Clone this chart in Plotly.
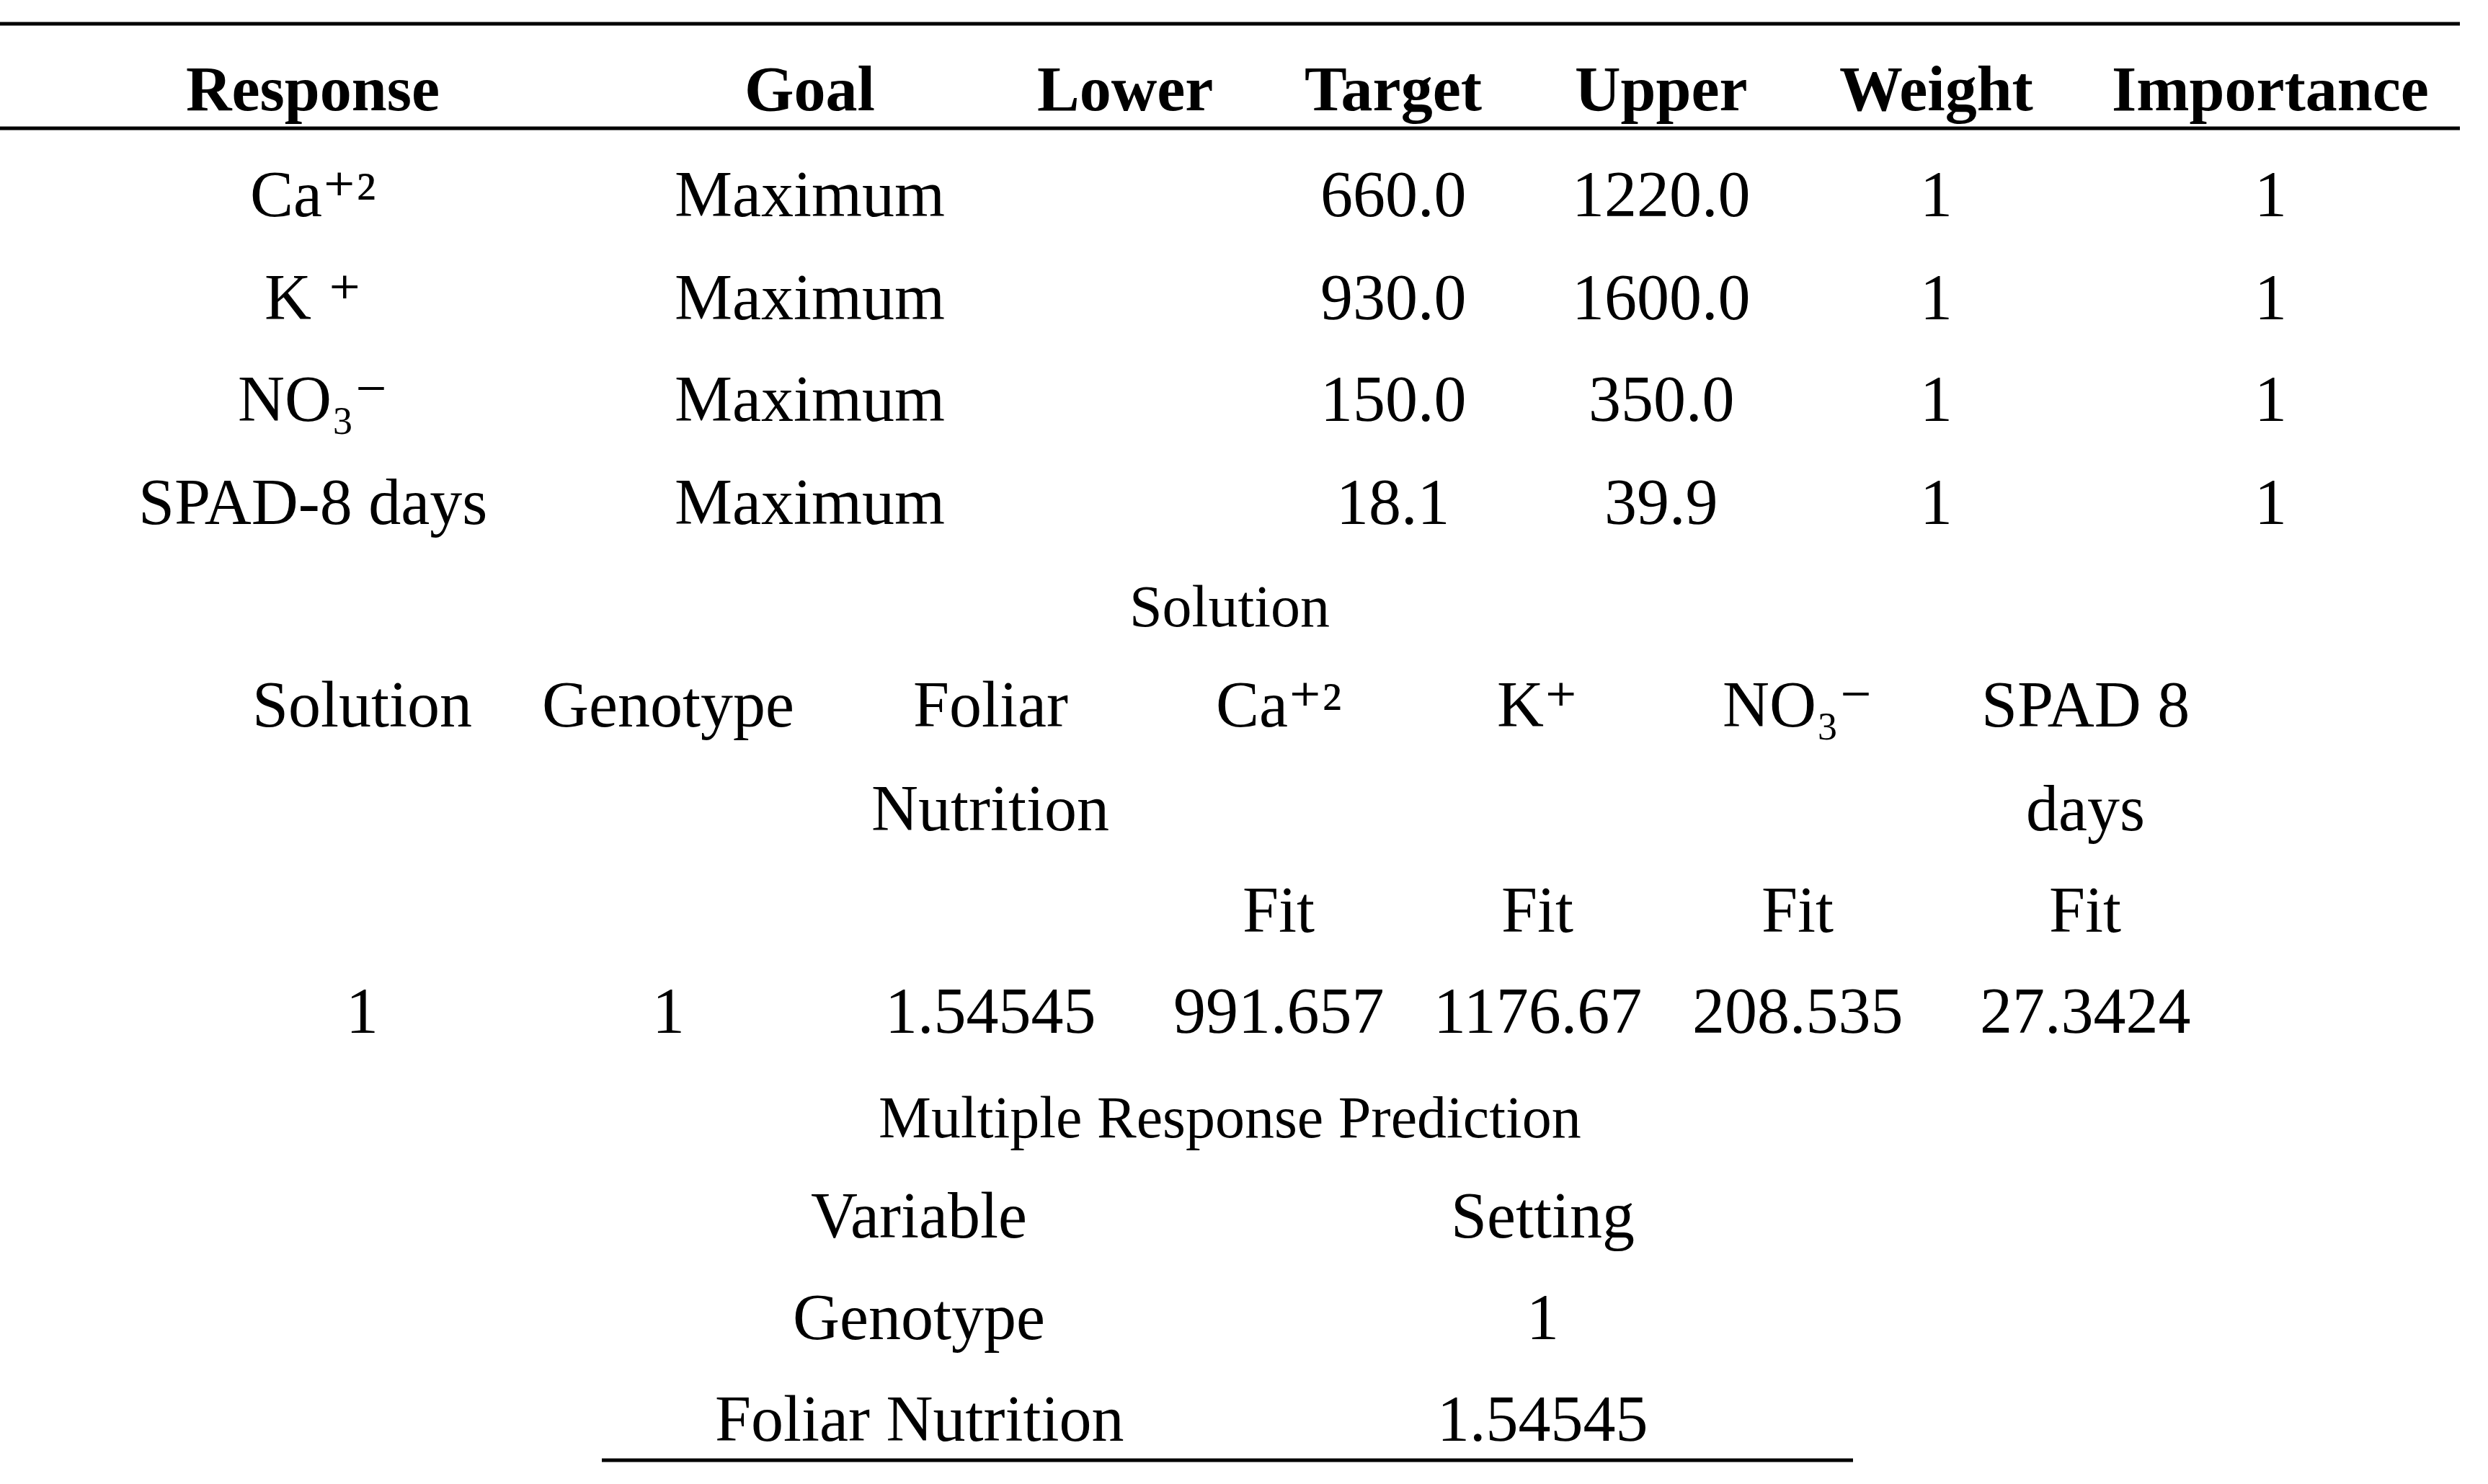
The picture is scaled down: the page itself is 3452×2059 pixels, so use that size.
import plotly.graph_objects as go

# ---------------- data ----------------
opt_headers = ["Response", "Goal", "Lower", "Target", "Upper", "Weight", "Importance"]
responses = ["Ca⁺²", "K ⁺", "NO₃⁻", "SPAD-8 days"]
goals = ["Maximum", "Maximum", "Maximum", "Maximum"]
lowers = ["", "", "", ""]
targets = ["660.0", "930.0", "150.0", "18.1"]
uppers = ["1220.0", "1600.0", "350.0", "39.9"]
weights = ["1", "1", "1", "1"]
importances = ["1", "1", "1", "1"]

solution_title = "Solution"
sol_header_rows = [
    ["Solution", "Genotype", "Foliar", "Ca⁺²", "K⁺", "NO₃⁻", "SPAD 8"],
    ["", "", "Nutrition", "", "", "", "days"],
    ["", "", "", "Fit", "Fit", "Fit", "Fit"],
]
sol_values = ["1", "1", "1.54545", "991.657", "1176.67", "208.535", "27.3424"]

pred_title = "Multiple Response Prediction"
pred_header = ["Variable", "Setting"]
pred_variables = ["Genotype", "Foliar Nutrition"]
pred_settings = ["1", "1.54545"]

# ---------------- layout (pixel positions) ----------------
W, H = 3452, 2059
FONT = "Liberation Serif, DejaVu Serif, serif"
BODY = 90
HEAD = 88
TITLE = 82

opt_x = [434, 1123, 1561, 1933, 2305, 2686, 3150]
opt_head_y = 123
opt_rows_y = [269, 412, 553, 696]

sol_title_y = 841
sol_x = [502, 927, 1374, 1774, 2133, 2494, 2893]
sol_head_y = [977, 1121, 1262]
sol_val_y = 1402

pred_title_y = 1550
pred_x = [1275, 2140]
pred_head_y = 1686
pred_rows_y = [1827, 1968]

title_x = 1706

annotations = []


def add(text, x, y, size=BODY, bold=False):
    if text == "":
        return
    if bold:
        text = "<b>" + text + "</b>"
    annotations.append(dict(
        x=x, y=y, xref="x", yref="y", text=text, showarrow=False,
        xanchor="center", yanchor="middle",
        font=dict(family=FONT, size=size, color="black"),
    ))


for h, x in zip(opt_headers, opt_x):
    add(h, x, opt_head_y, HEAD, bold=True)

columns = [responses, goals, lowers, targets, uppers, weights, importances]
for col, x in zip(columns, opt_x):
    for val, y in zip(col, opt_rows_y):
        add(val, x, y)

add(solution_title, title_x, sol_title_y, TITLE)
for row, y in zip(sol_header_rows, sol_head_y):
    for val, x in zip(row, sol_x):
        add(val, x, y)
for val, x in zip(sol_values, sol_x):
    add(val, x, sol_val_y)

add(pred_title, title_x, pred_title_y, TITLE)
for val, x in zip(pred_header, pred_x):
    add(val, x, pred_head_y)
for var, setting, y in zip(pred_variables, pred_settings, pred_rows_y):
    add(var, pred_x[0], y)
    add(setting, pred_x[1], y)

RULE = dict(color="black", width=5)
shapes = [
    dict(type="line", xref="x", yref="y", x0=0, x1=3413, y0=33, y1=33, line=RULE),
    dict(type="line", xref="x", yref="y", x0=0, x1=3413, y0=178, y1=178, line=RULE),
    dict(type="line", xref="x", yref="y", x0=835, x1=2571, y0=2026, y1=2026, line=RULE),
]

fig = go.Figure()
fig.update_layout(
    width=W, height=H,
    margin=dict(l=0, r=0, t=0, b=0),
    paper_bgcolor="white", plot_bgcolor="white",
    xaxis=dict(range=[0, W], visible=False, fixedrange=True),
    yaxis=dict(range=[H, 0], visible=False, fixedrange=True),
    annotations=annotations,
    shapes=shapes,
    showlegend=False,
)

fig.write_html("out.html", config={"displayModeBar": False},
               post_script="document.body.style.margin='0';")
